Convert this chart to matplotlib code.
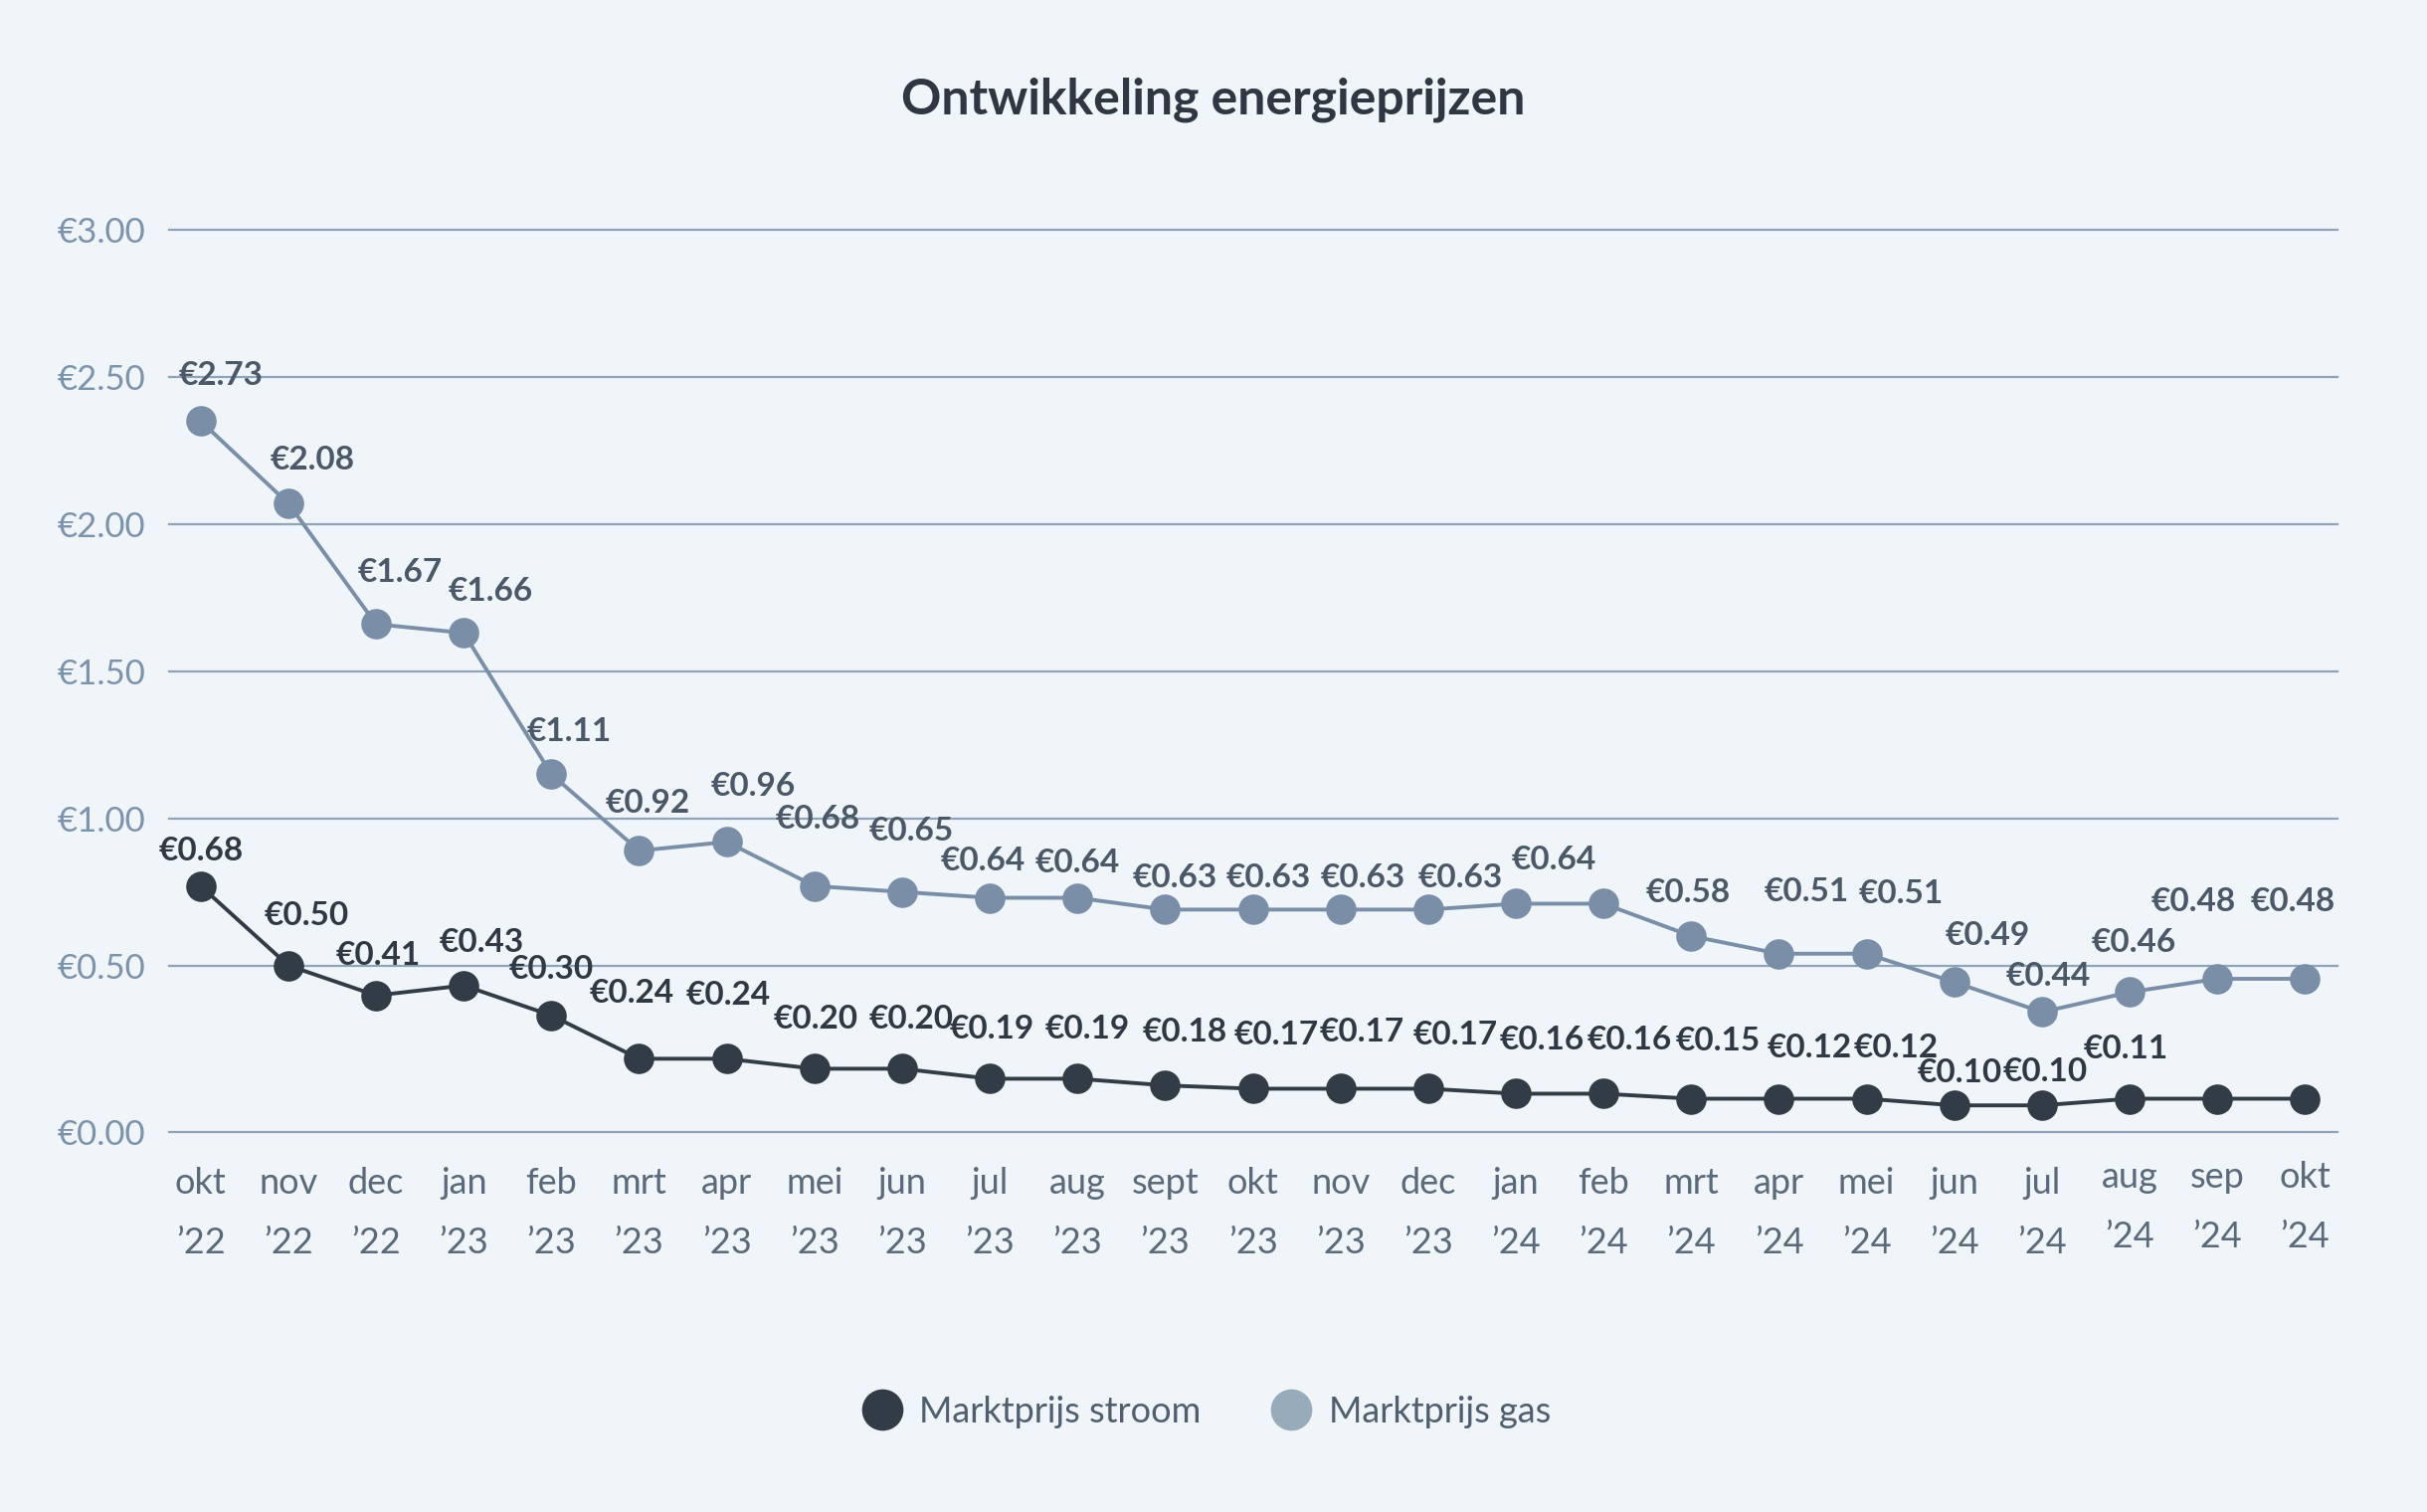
import numpy as np
import matplotlib
matplotlib.use("Agg")
import matplotlib.pyplot as plt
from matplotlib.lines import Line2D

plt.rcParams['font.family'] = ['Lato', 'DejaVu Sans']

# ---------------- data ----------------
months = ['okt', 'nov', 'dec', 'jan', 'feb', 'mrt', 'apr', 'mei', 'jun', 'jul', 'aug', 'sept',
          'okt', 'nov', 'dec', 'jan', 'feb', 'mrt', 'apr', 'mei', 'jun', 'jul', 'aug', 'sep', 'okt']
years = ['’22'] * 3 + ['’23'] * 12 + ['’24'] * 10

# plotted positions
gas_values = [2.35, 2.07, 1.66, 1.63, 1.15, 0.89, 0.92, 0.77, 0.75, 0.73, 0.73, 0.69, 0.69,
              0.69, 0.69, 0.71, 0.71, 0.60, 0.54, 0.54, 0.45, 0.36, 0.42, 0.46, 0.46]
stroom_values = [0.77, 0.50, 0.41, 0.44, 0.35, 0.22, 0.22, 0.19, 0.19, 0.16, 0.16, 0.14, 0.13,
                 0.13, 0.13, 0.115, 0.115, 0.10, 0.10, 0.10, 0.08, 0.08, 0.10, 0.10, 0.10]

# values printed in the data labels (None = no label shown)
gas_label_values = [2.73, 2.08, 1.67, 1.66, 1.11, 0.92, 0.96, 0.68, 0.65, 0.64, 0.64, 0.63, 0.63,
                    0.63, 0.63, 0.64, None, 0.58, 0.51, 0.51, 0.49, 0.44, 0.46, 0.48, 0.48]
stroom_label_values = [0.68, 0.50, 0.41, 0.43, 0.30, 0.24, 0.24, 0.20, 0.20, 0.19, 0.19, 0.18, 0.17,
                       0.17, 0.17, 0.16, 0.16, 0.15, 0.12, 0.12, 0.10, 0.10, 0.11, None, None]

y_ticks = [0.0, 0.5, 1.0, 1.5, 2.0, 2.5, 3.0]
series_names = ['Marktprijs stroom', 'Marktprijs gas']
title = 'Ontwikkeling energieprijzen'

# ---------------- layout (label offsets in pixels: dx, up) ----------------
gas_offsets = [(20, 46), (24, 44), (24, 52), (27, 42), (18, 43), (9, 48), (27, 56), (3, 67),
               (9, 61), (-7, 37), (0, 35), (10, 32), (16, 32), (23, 32), (32, 32), (38, 44),
               (0, 0), (-3, 44), (28, 62), (35, 60), (33, 47), (6, 36), (4, 50), (-24, 77),
               (-12, 77)]
stroom_offsets = [(0, 35), (18, 50), (2, 40), (18, 43), (0, 46), (-7, 66), (2, 64), (1, 50),
                  (9, 50), (2, 50), (10, 50), (20, 54), (24, 54), (21, 57), (27, 54), (26, 54),
                  (26, 54), (27, 58), (31, 51), (30, 51), (5, 33), (3, 34), (-4, 50), (0, 0),
                  (0, 0)]

BG = '#eff5f9'
GAS = '#7a8fa7'
GAS_LEG = '#97abba'
STROOM = '#323c47'
GRID = '#8fa5b7'
YTICK = '#7d93ab'
XTICK = '#5a6a7a'
GAS_TXT = '#4a5868'
STROOM_TXT = '#2f3944'
TITLE = '#2e3742'

# axis is stretched below 0.5 in the reference
K = 335.0 / 296.0


def fwd(v):
    v = np.asarray(v, dtype=float)
    return np.where(v < 0.5, v * K, 0.5 * K + (v - 0.5))


def inv(u):
    u = np.asarray(u, dtype=float)
    return np.where(u < 0.5 * K, u / K, u - 0.5 * K + 0.5)


fig = plt.figure(figsize=(12.2, 7.6), dpi=200, facecolor=BG)
ax = fig.add_axes([170 / 2440, 1 - 1138 / 1520, (2350 - 170) / 2440, (1138 - 231) / 1520])
ax.set_facecolor(BG)
ax.set_yscale('function', functions=(fwd, inv))

x = np.arange(len(months))
ax.plot(x, stroom_values, color=STROOM, lw=1.4, marker='o', ms=10, zorder=4)
ax.plot(x, gas_values, color=GAS, lw=1.4, marker='o', ms=10, zorder=3)

for i, (v, lv) in enumerate(zip(gas_values, gas_label_values)):
    if lv is None:
        continue
    dx, up = gas_offsets[i]
    ax.annotate(f'€{lv:.2f}', (x[i], v), xytext=(dx, up), textcoords='offset pixels',
                ha='center', va='center', fontsize=12, fontweight='bold', color=GAS_TXT,
                zorder=6)
for i, (v, lv) in enumerate(zip(stroom_values, stroom_label_values)):
    if lv is None:
        continue
    dx, up = stroom_offsets[i]
    ax.annotate(f'€{lv:.2f}', (x[i], v), xytext=(dx, up), textcoords='offset pixels',
                ha='center', va='center', fontsize=12, fontweight='bold', color=STROOM_TXT,
                zorder=6)

ax.set_xlim(-0.36, 24.37)
ax.set_ylim(0, 3)
ax.set_yticks(y_ticks)
ax.set_yticklabels([f'€{t:.2f}' for t in y_ticks])
ax.set_xticks(x)
ax.set_xticklabels([f'{m}\n{y}' for m, y in zip(months, years)], linespacing=2.0)

ax.yaxis.grid(True, color=GRID, lw=0.8)
ax.xaxis.grid(False)
for gl in ax.get_ygridlines():
    gl.set_clip_on(False)
ax.set_axisbelow(True)
for s in ax.spines.values():
    s.set_visible(False)

ax.tick_params(axis='y', length=0, pad=40.3, labelsize=12.5, labelcolor=YTICK)
ax.tick_params(axis='x', length=0, pad=12.5, labelsize=13, labelcolor=XTICK)
for lab in ax.get_yticklabels():
    lab.set_horizontalalignment('left')
# the last three month labels sit slightly higher in the reference
for lab in ax.get_xticklabels()[-3:]:
    lab.set_y(6 / 907)

fig.text(0.5, 1 - 100 / 1520, title, ha='center', va='center', fontsize=18,
         fontweight='bold', color=TITLE)

handles = [Line2D([], [], ls='none', marker='o', ms=14, color=STROOM),
           Line2D([], [], ls='none', marker='o', ms=14, color=GAS_LEG)]
leg = fig.legend(handles, series_names, loc='center', bbox_to_anchor=(0.4975, 1 - 1419 / 1520),
                 ncol=2, frameon=False, fontsize=13, handlelength=1.0, handletextpad=0.55,
                 columnspacing=2.0)
for t in leg.get_texts():
    t.set_color('#4f5f6f')

fig.savefig('out.png', dpi=200, facecolor=BG)
